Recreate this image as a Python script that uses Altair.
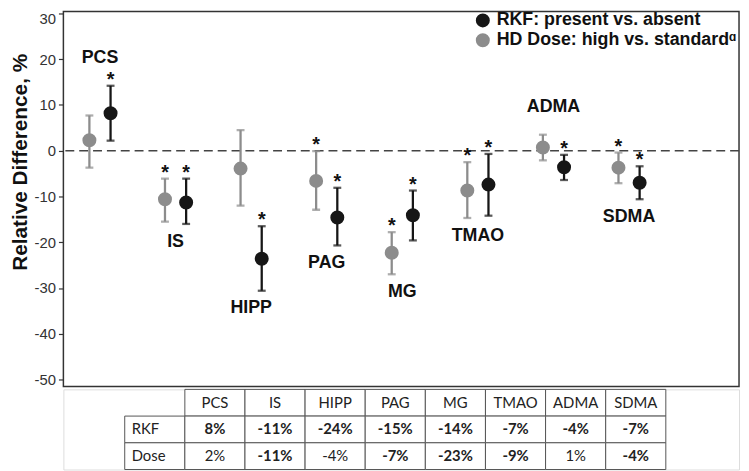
import altair as alt
import pandas as pd

# ---------------- data ----------------
categories = ["PCS", "IS", "HIPP", "PAG", "MG", "TMAO", "ADMA", "SDMA"]

rkf_est = [8.2, -11.3, -23.6, -14.6, -14.1, -7.4, -3.6, -7.0]
rkf_lo = [2.2, -16.0, -30.6, -20.7, -19.6, -14.2, -6.4, -10.6]
rkf_hi = [14.2, -6.1, -16.5, -8.1, -8.7, -0.7, -0.9, -3.4]
rkf_sig = [True, True, True, True, True, True, True, True]

dose_est = [2.3, -10.6, -3.9, -6.6, -22.3, -8.7, 0.7, -3.7]
dose_lo = [-3.7, -15.5, -12.0, -12.9, -27.0, -14.7, -2.1, -7.1]
dose_hi = [7.7, -6.1, 4.5, -0.1, -17.8, -2.5, 3.5, -0.4]
dose_sig = [False, True, False, True, True, True, False, True]

label_side = ["above", "below", "below", "below", "below", "below", "above", "below"]

rkf_pct = ["8%", "-11%", "-24%", "-15%", "-14%", "-7%", "-4%", "-7%"]
dose_pct = ["2%", "-11%", "-4%", "-7%", "-23%", "-9%", "1%", "-4%"]

RKF_LBL = "RKF: present vs. absent"
DOSE_LBL = "HD Dose: high vs. standard\u1d45"

# ---------------- tables for the library ----------------
pts = []
for i, c in enumerate(categories):
    pts.append(dict(cat=c, series=DOSE_LBL, x=i - 0.14, est=dose_est[i],
                    lo=dose_lo[i], hi=dose_hi[i], sig=dose_sig[i]))
    pts.append(dict(cat=c, series=RKF_LBL, x=i + 0.14, est=rkf_est[i],
                    lo=rkf_lo[i], hi=rkf_hi[i], sig=rkf_sig[i]))
df = pd.DataFrame(pts)

labs = []
for i, c in enumerate(categories):
    side = label_side[i]
    y = max(rkf_hi[i], dose_hi[i]) if side == "above" else min(rkf_lo[i], dose_lo[i])
    labs.append(dict(cat=c, x=i, y=y, side=side))
labdf = pd.DataFrame(labs)

FONT = "Liberation Sans"
xs = alt.Scale(domain=[-0.484, 8.455], nice=False, zero=False)
ys = alt.Scale(domain=[-51.51, 30.43], nice=False, zero=False)
cs = alt.Scale(domain=[RKF_LBL, DOSE_LBL], range=["#161616", "#8c8c8c"])

LEG = alt.Legend(
    title=None, orient="none", legendX=415, legendY=0, direction="vertical",
    labelFont=FONT, labelFontSize=18, labelFontWeight="bold",
    labelColor="#111", labelLimit=0, labelOffset=5, symbolType="circle",
    symbolSize=200, symbolStrokeWidth=0, symbolOpacity=1, rowPadding=2, padding=0)
COLOR = alt.Color("series:N", scale=cs, legend=LEG)

X = alt.X("x:Q", scale=xs, axis=None)

base = alt.Chart(df)

zero = alt.Chart(pd.DataFrame({"zero": [0]})).mark_rule(
    strokeDash=[9, 5], color="#444", strokeWidth=1.6
).encode(
    y=alt.Y("zero:Q", scale=ys, axis=alt.Axis(
        values=list(range(-50, 31, 10)), title="Relative Difference, %",
        grid=False, domain=False, ticks=True, tickSize=5, tickColor="#333",
        tickWidth=1.2, labelFont=FONT, labelFontSize=15, labelColor="#333",
        labelPadding=3, labelExpr="toString(datum.value)",
        labelFlush=3, labelFlushOffset=2,
        titleFont=FONT, titleFontSize=21, titleFontWeight="bold",
        titleColor="#111", titlePadding=4, titleY=152, titleAlign="center"))
)

bars = base.mark_rule(strokeWidth=2.3).encode(
    x=X, y=alt.Y("lo:Q", scale=ys), y2="hi:Q", color=COLOR)

cap_lo = base.mark_tick(orient="horizontal", size=8, thickness=2.3).encode(
    x=X, y=alt.Y("lo:Q", scale=ys), color=COLOR)
cap_hi = base.mark_tick(orient="horizontal", size=8, thickness=2.3).encode(
    x=X, y=alt.Y("hi:Q", scale=ys), color=COLOR)

points = base.mark_circle(size=200, opacity=1).encode(
    x=X, y=alt.Y("est:Q", scale=ys), color=COLOR)

stars = base.transform_filter("datum.sig").mark_text(
    text="*", font=FONT, fontSize=20, fontWeight="bold", baseline="alphabetic",
    dy=0, color="#111").encode(x=X, y=alt.Y("hi:Q", scale=ys))

lab_below = alt.Chart(labdf).transform_filter("datum.side == 'below'").mark_text(
    font=FONT, fontSize=18, fontWeight="bold", baseline="middle", dy=18,
    color="#111").encode(x=X, y=alt.Y("y:Q", scale=ys), text="cat:N")
lab_above = alt.Chart(labdf).transform_filter("datum.side == 'above'").mark_text(
    font=FONT, fontSize=18, fontWeight="bold", baseline="middle", dy=-28,
    color="#111").encode(x=X, y=alt.Y("y:Q", scale=ys), text="cat:N")

plot = alt.layer(zero, bars, cap_lo, cap_hi, points, stars, lab_below, lab_above).properties(
    width=683, height=379,
    view=alt.ViewBackground(stroke="#333", strokeWidth=1.5))

# ---------------- table ----------------
col_keys = ["rowlabel"] + categories
row_keys = ["header", "RKF", "Dose"]
cells = []
for r in row_keys:
    for j, ck in enumerate(col_keys):
        if r == "header" and ck == "rowlabel":
            continue
        if r == "header":
            txt, bold, is_lab = ck, False, False
        elif ck == "rowlabel":
            txt, bold, is_lab = r, False, True
        else:
            k = j - 1
            if r == "RKF":
                txt, bold = rkf_pct[k], rkf_sig[k]
            else:
                txt, bold = dose_pct[k], dose_sig[k]
            is_lab = False
        cells.append(dict(row=r, col=ck, txt=txt, bold=bold, is_lab=is_lab))
tdf = pd.DataFrame(cells)

tx = alt.Scale(domain=col_keys, range=[62, 609], paddingInner=0, paddingOuter=0)
ty = alt.Scale(domain=row_keys, paddingInner=0, paddingOuter=0)
TX = alt.X("col:N", scale=tx, axis=None)
TY = alt.Y("row:N", scale=ty, axis=None)

tbase = alt.Chart(tdf)
trect = tbase.mark_rect(fill="white", stroke="#555", strokeWidth=1).encode(x=TX, y=TY)
tlab = tbase.transform_filter("datum.is_lab").mark_text(
    font="Lato", fontSize=15, align="left", dx=7, baseline="middle", color="#222"
).encode(x=alt.X("col:N", scale=tx, axis=None, bandPosition=0), y=TY, text="txt:N")
tnorm = tbase.transform_filter("!datum.is_lab && !datum.bold").mark_text(
    font="Lato", fontSize=15, baseline="middle", color="#222"
).encode(x=TX, y=TY, text="txt:N")
tbold = tbase.transform_filter("!datum.is_lab && datum.bold").mark_text(
    font="Lato", fontSize=15, fontWeight="bold", baseline="middle", color="#222"
).encode(x=TX, y=TY, text="txt:N")

table = alt.layer(trect, tlab, tnorm, tbold).properties(width=683, height=81)

chart = alt.vconcat(plot, table, spacing=0).properties(
    padding=0
).configure_view(stroke=None).configure(background="white")

chart.save("out.html", embed_options={"renderer": "svg", "actions": False})
